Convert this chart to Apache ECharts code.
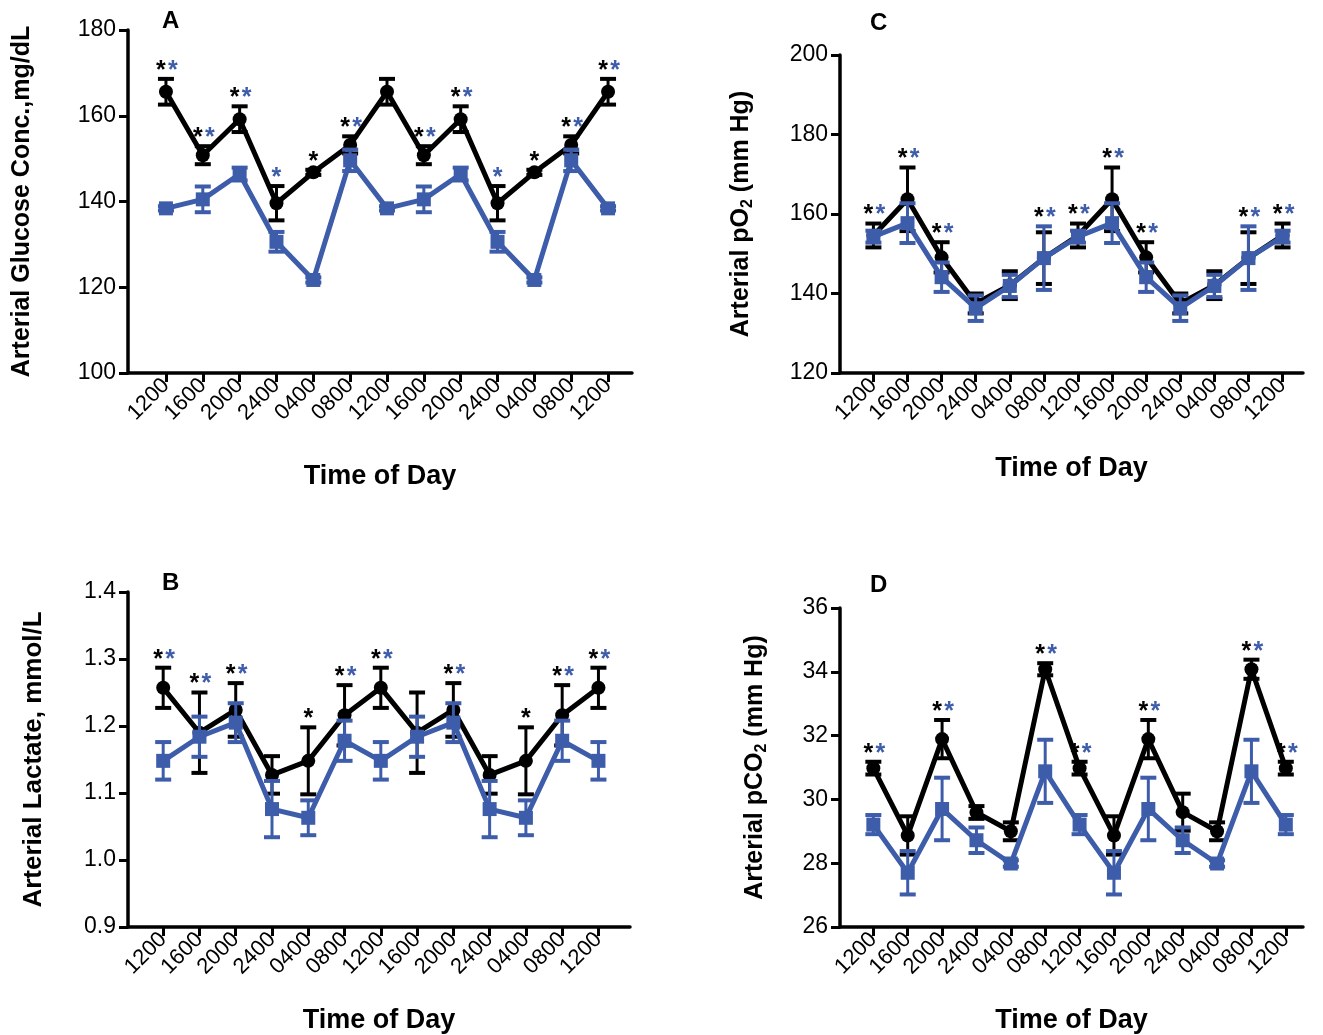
<!DOCTYPE html>
<html>
<head>
<meta charset="utf-8">
<script src="https://cdn.jsdelivr.net/npm/echarts@6/dist/echarts.min.js"></script>
<style>
  html, body { margin: 0; padding: 0; background: #fff; }
  #chart { width: 1323px; height: 1035px; }
</style>
</head>
<body>
<div id="chart"></div>
<script>
// time of day categories (double plotted over two days)
const times = ['1200', '1600', '2000', '2400', '0400', '0800', '1200', '1600', '2000', '2400', '0400', '0800', '1200'];

// A - arterial glucose (mg/dL)
const glucoseBlack    = [165.6, 150.8, 159.2, 139.6, 146.8, 153.2, 165.6, 150.8, 159.2, 139.6, 146.8, 153.2, 165.6];
const glucoseBlackSem = [3, 2.1, 3, 4, 0.6, 2, 3, 2.1, 3, 4, 0.6, 2, 3];
const glucoseBlue     = [138.4, 140.5, 146.4, 130.6, 121.7, 149.6, 138.4, 140.5, 146.4, 130.6, 121.7, 149.6, 138.4];
const glucoseBlueSem  = [0.5, 3, 1.5, 2.3, 0.6, 2.5, 0.5, 3, 1.5, 2.3, 0.6, 2.5, 0.5];
const glucoseStarBlack = [1, 1, 1, 0, 1, 1, 0, 1, 1, 0, 1, 1, 1];
const glucoseStarBlue  = [1, 1, 1, 1, 0, 1, 0, 1, 1, 1, 0, 1, 1];

// B - arterial lactate (mmol/L)
const lactateBlack    = [1.257, 1.19, 1.224, 1.127, 1.148, 1.216, 1.257, 1.19, 1.224, 1.127, 1.148, 1.216, 1.257];
const lactateBlackSem = [0.03, 0.06, 0.04, 0.028, 0.05, 0.045, 0.03, 0.06, 0.04, 0.028, 0.05, 0.045, 0.03];
const lactateBlue     = [1.148, 1.184, 1.205, 1.076, 1.063, 1.178, 1.148, 1.184, 1.205, 1.076, 1.063, 1.178, 1.148];
const lactateBlueSem  = [0.028, 0.03, 0.029, 0.042, 0.026, 0.03, 0.028, 0.03, 0.029, 0.042, 0.026, 0.03, 0.028];
const lactateStarBlack = [1, 1, 1, 0, 1, 1, 1, 0, 1, 0, 1, 1, 1];
const lactateStarBlue  = [1, 1, 1, 0, 0, 1, 1, 0, 1, 0, 0, 1, 1];

// C - arterial pO2 (mm Hg)
const po2Black    = [154.6, 163.7, 149.1, 137.5, 142.1, 148.9, 154.6, 163.7, 149.1, 137.5, 142.1, 148.9, 154.6];
const po2BlackSem = [3, 8, 3.8, 2.5, 3.5, 6.5, 3, 8, 3.8, 2.5, 3.5, 6.5, 3];
const po2Blue     = [154.3, 157.7, 144.1, 136.3, 141.9, 148.9, 154.3, 157.7, 144.1, 136.3, 141.9, 148.9, 154.3];
const po2BlueSem  = [1.5, 5, 3.7, 3.2, 2.8, 8, 1.5, 5, 3.7, 3.2, 2.8, 8, 1.5];
const po2StarBlack = [1, 1, 1, 0, 0, 1, 1, 1, 1, 0, 0, 1, 1];
const po2StarBlue  = [1, 1, 1, 0, 0, 1, 1, 1, 1, 0, 0, 1, 1];

// D - arterial pCO2 (mm Hg)
const pco2Black    = [30.98, 28.87, 31.89, 29.59, 29.0, 34.08, 30.98, 28.87, 31.89, 29.6, 29.0, 34.08, 30.98];
const pco2BlackSem = [0.2, 0.6, 0.6, 0.2, 0.28, 0.19, 0.2, 0.6, 0.6, 0.58, 0.28, 0.3, 0.2];
const pco2Blue     = [29.21, 27.7, 29.7, 28.72, 27.99, 30.88, 29.21, 27.7, 29.7, 28.72, 27.99, 30.88, 29.21];
const pco2BlueSem  = [0.3, 0.68, 0.98, 0.4, 0.1, 0.99, 0.3, 0.68, 0.98, 0.4, 0.1, 0.99, 0.3];
const pco2StarBlack = [1, 0, 1, 0, 0, 1, 1, 0, 1, 0, 0, 1, 1];
const pco2StarBlue  = [1, 0, 1, 0, 0, 1, 1, 0, 1, 0, 0, 1, 1];

const BLACK = '#000000';
const BLUE = '#3d5caa';
const FONT = '"Liberation Sans", Arial, Helvetica, sans-serif';

const panels = [
    {
        title: 'A', titlePos: [157, 4],
        grid: { left: 128, top: 30, width: 504, height: 343 },
        xMin: -1.03, xMax: 12.65,
        yMin: 100, yMax: 180, yStep: 20, digits: 0,
        yName: 'Arterial Glucose Conc.,mg/dL', yNameSize: 25, yNameGap: 93, xNameGap: 90,
        black: glucoseBlack, blackSem: glucoseBlackSem, blue: glucoseBlue, blueSem: glucoseBlueSem,
        starBlack: glucoseStarBlack, starBlue: glucoseStarBlue
    },
    {
        title: 'B', titlePos: [157, 566],
        grid: { left: 128, top: 592, width: 502, height: 336 },
        xMin: -0.97, xMax: 12.87,
        yMin: 0.9, yMax: 1.4, yStep: 0.1, digits: 1,
        yName: 'Arterial Lactate, mmol/L', yNameSize: 26, yNameGap: 81, xNameGap: 80,
        black: lactateBlack, blackSem: lactateBlackSem, blue: lactateBlue, blueSem: lactateBlueSem,
        starBlack: lactateStarBlack, starBlue: lactateStarBlue
    },
    {
        title: 'C', titlePos: [865, 6],
        grid: { left: 840, top: 55, width: 463, height: 318 },
        xMin: -0.98, xMax: 12.6,
        yMin: 120, yMax: 200, yStep: 20, digits: 0,
        yName: '{t|Arterial pO}{s|2}{t| (mm Hg)}', yNameSize: 25, yNameGap: 84, xNameGap: 82,
        black: po2Black, blackSem: po2BlackSem, blue: po2Blue, blueSem: po2BlueSem,
        starBlack: po2StarBlack, starBlue: po2StarBlue
    },
    {
        title: 'D', titlePos: [865, 568],
        grid: { left: 840, top: 608, width: 463, height: 320 },
        xMin: -0.97, xMax: 12.5,
        yMin: 26, yMax: 36, yStep: 2, digits: 0,
        yName: '{t|Arterial pCO}{s|2}{t| (mm Hg)}', yNameSize: 25, yNameGap: 70, xNameGap: 80,
        black: pco2Black, blackSem: pco2BlackSem, blue: pco2Blue, blueSem: pco2BlueSem,
        starBlack: pco2StarBlack, starBlue: pco2StarBlue
    }
];

const tickIdx = times.map((t, i) => i);

function errorBars(color) {
    return function (params, api) {
        const x = api.value(0), m = api.value(1), s = api.value(2);
        const top = api.coord([x, m + s]);
        const bot = api.coord([x, m - s]);
        const w = 8;
        const style = { stroke: color, lineWidth: 3 };
        const cap = { stroke: color, lineWidth: 4 };
        return {
            type: 'group',
            children: [
                { type: 'line', shape: { x1: top[0], y1: top[1], x2: bot[0], y2: bot[1] }, style: style },
                { type: 'line', shape: { x1: top[0] - w, y1: top[1], x2: top[0] + w, y2: top[1] }, style: cap },
                { type: 'line', shape: { x1: bot[0] - w, y1: bot[1], x2: bot[0] + w, y2: bot[1] }, style: cap }
            ]
        };
    };
}

function starItem(params, api) {
    const p = api.coord([api.value(0), api.value(1)]);
    const b = api.value(2), u = api.value(3);
    const both = b && u;
    const y = p[1] - 8;
    const font = 'bold 25px ' + FONT;
    const kids = [];
    if (b) kids.push({ type: 'text', style: { text: '*', x: p[0] + (both ? -5 : 0), y: y, fill: BLACK, font: font, align: 'center', verticalAlign: 'middle' } });
    if (u) kids.push({ type: 'text', style: { text: '*', x: p[0] + (both ? 7 : 0), y: y, fill: BLUE, font: font, align: 'center', verticalAlign: 'middle' } });
    return { type: 'group', children: kids };
}

const option = {
    backgroundColor: '#fff',
    animation: false,
    title: [], grid: [], xAxis: [], yAxis: [], series: []
};

panels.forEach((p, i) => {
    option.title.push({
        text: p.title, left: p.titlePos[0], top: p.titlePos[1],
        textStyle: { fontFamily: FONT, fontSize: 24, fontWeight: 'bold', color: BLACK }
    });
    option.grid.push(Object.assign({ containLabel: false }, p.grid));
    option.xAxis.push({
        type: 'value', gridIndex: i, min: p.xMin, max: p.xMax,
        name: 'Time of Day', nameLocation: 'middle', nameGap: p.xNameGap,
        nameTextStyle: { fontFamily: FONT, fontSize: 27, fontWeight: 'bold', color: BLACK },
        axisLine: { show: true, onZero: false, lineStyle: { color: BLACK, width: 3.5 } },
        axisTick: { show: true, length: 9, lineStyle: { color: BLACK, width: 3 }, customValues: tickIdx },
        axisLabel: {
            customValues: tickIdx, rotate: 45, margin: 9,
            fontFamily: FONT, fontSize: 22, color: BLACK,
            formatter: v => times[Math.round(v)] || ''
        },
        splitLine: { show: false }
    });
    option.yAxis.push({
        type: 'value', gridIndex: i, min: p.yMin, max: p.yMax, interval: p.yStep,
        name: p.yName, nameLocation: 'middle', nameGap: p.yNameGap,
        nameTextStyle: {
            fontFamily: FONT, fontSize: p.yNameSize, fontWeight: 'bold', color: BLACK,
            rich: {
                t: { fontFamily: FONT, fontSize: p.yNameSize, fontWeight: 'bold', color: BLACK, lineHeight: 30, verticalAlign: 'middle' },
                s: { fontFamily: FONT, fontSize: 16, fontWeight: 'bold', color: BLACK, lineHeight: 30, verticalAlign: 'bottom' }
            }
        },
        axisLine: { show: true, onZero: false, lineStyle: { color: BLACK, width: 3.5 } },
        axisTick: { show: true, length: 9, lineStyle: { color: BLACK, width: 3 } },
        axisLabel: {
            margin: 12, fontFamily: FONT, fontSize: 23, color: BLACK,
            formatter: v => v.toFixed(p.digits)
        },
        splitLine: { show: false }
    });

    const blackPts = p.black.map((v, k) => [k, v]);
    const bluePts = p.blue.map((v, k) => [k, v]);
    const starPts = times.map((t, k) => [
        k,
        Math.max(p.black[k] + p.blackSem[k], p.blue[k] + p.blueSem[k]),
        p.starBlack[k], p.starBlue[k]
    ]);

    option.series.push(
        {
            type: 'custom', xAxisIndex: i, yAxisIndex: i, z: 2, clip: false,
            renderItem: errorBars(BLACK),
            data: p.black.map((v, k) => [k, v, p.blackSem[k]])
        },
        {
            type: 'line', xAxisIndex: i, yAxisIndex: i, z: 3, data: blackPts,
            symbol: 'circle', symbolSize: 14, color: BLACK,
            lineStyle: { color: BLACK, width: 5 }, itemStyle: { color: BLACK }
        },
        {
            type: 'custom', xAxisIndex: i, yAxisIndex: i, z: 4, clip: false,
            renderItem: errorBars(BLUE),
            data: p.blue.map((v, k) => [k, v, p.blueSem[k]])
        },
        {
            type: 'line', xAxisIndex: i, yAxisIndex: i, z: 5, data: bluePts,
            symbol: 'rect', symbolSize: 14, color: BLUE,
            lineStyle: { color: BLUE, width: 5 }, itemStyle: { color: BLUE }
        },
        {
            type: 'custom', xAxisIndex: i, yAxisIndex: i, z: 6, clip: false,
            renderItem: starItem, data: starPts
        }
    );
});

const chart = echarts.init(document.getElementById('chart'));
chart.setOption(option);
</script>
</body>
</html>
